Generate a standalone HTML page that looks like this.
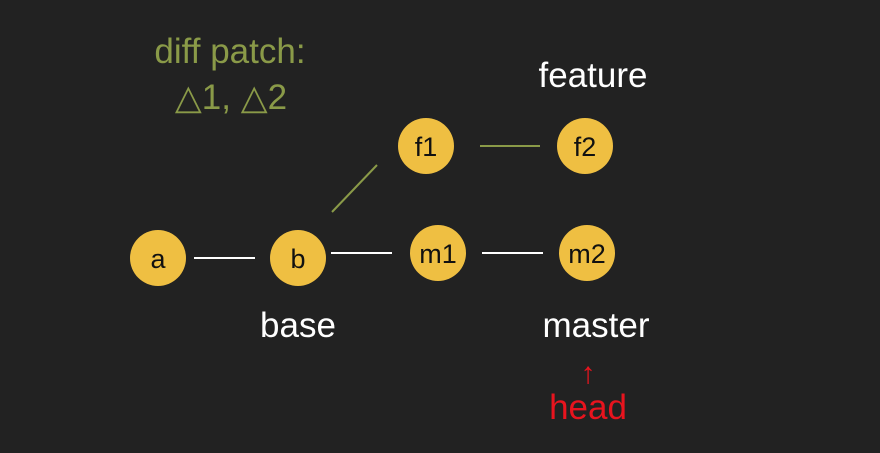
<!DOCTYPE html>
<html><head><style>
html,body{margin:0;padding:0;background:#222222;}
svg{display:block;}
text{font-family:"Liberation Sans",sans-serif;}
</style></head><body>
<svg width="880" height="453" viewBox="0 0 880 453">
<rect width="880" height="453" fill="#222222"/>
<g stroke-width="2">
<line x1="194" y1="258" x2="255" y2="258" stroke="#ffffff"/>
<line x1="331" y1="253" x2="392" y2="253" stroke="#ffffff"/>
<line x1="482" y1="253" x2="543" y2="253" stroke="#ffffff"/>
<line x1="480" y1="146" x2="540" y2="146" stroke="#8a9a48"/>
<line x1="332" y1="212" x2="377" y2="165" stroke="#8a9a48"/>
</g>
<g fill="#efbf42">
<circle cx="158" cy="258" r="28"/>
<circle cx="298" cy="258" r="28"/>
<circle cx="438" cy="253" r="28"/>
<circle cx="587" cy="253" r="28"/>
<circle cx="426" cy="146" r="28"/>
<circle cx="585" cy="146" r="28"/>
</g>
<g font-size="27" fill="#111" text-anchor="middle">
<text x="158" y="268">a</text>
<text x="298" y="268">b</text>
<text x="438" y="263">m1</text>
<text x="587" y="263">m2</text>
<text x="426" y="156">f1</text>
<text x="585" y="156">f2</text>
</g>
<g font-size="35" text-anchor="middle">
<text x="230" y="63" fill="#8a9a48">diff patch:</text>
<text x="231" y="109" fill="#8a9a48">△1, △2</text>
<text x="593" y="87" fill="#ffffff">feature</text>
<text x="298" y="337" fill="#ffffff">base</text>
<text x="596" y="337" fill="#ffffff">master</text>
<text x="588" y="383" fill="#e8141e" font-size="30">↑</text>
<text x="588" y="419" fill="#e8141e">head</text>
</g>
</svg>
</body></html>
